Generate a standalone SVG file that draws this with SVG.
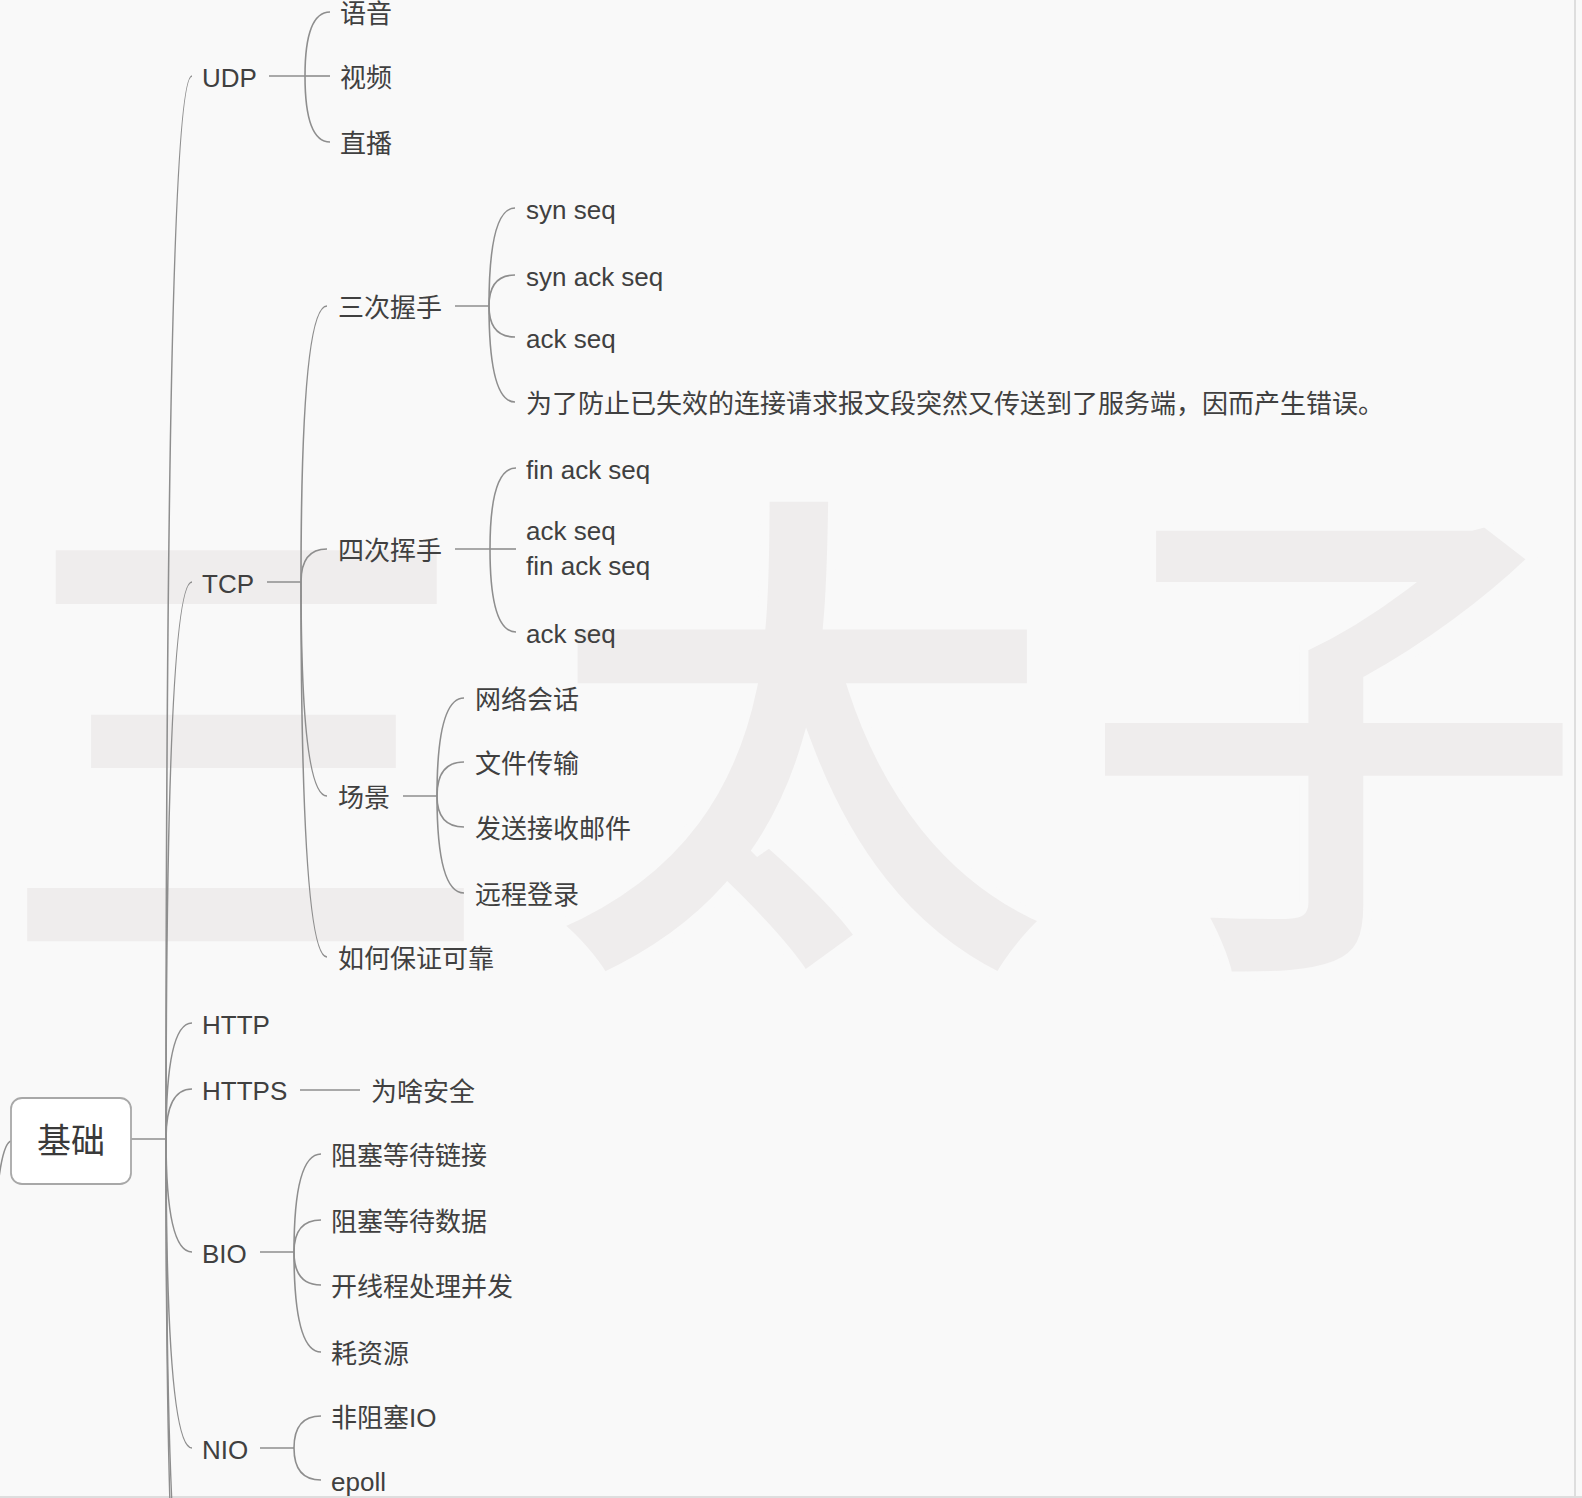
<svg xmlns="http://www.w3.org/2000/svg" width="1582" height="1498" viewBox="0 0 1582 1498">
<defs>
<style>
.t{font-family:"Liberation Sans","Noto Sans CJK SC",sans-serif;font-size:26px;fill:#404040;}
.root{font-family:"Liberation Sans","Noto Sans CJK SC",sans-serif;font-size:34px;fill:#3a3a3a;text-anchor:middle;}
.c{fill:none;stroke:#8e8e8e;stroke-width:1.6;}
.wm{font-family:"Noto Sans CJK SC",sans-serif;font-size:511px;font-weight:700;fill:#efeded;stroke:#f9f9f9;stroke-width:9;stroke-linejoin:miter;text-anchor:middle;}
</style>
<clipPath id="clipw"><rect x="0" y="0" width="1574" height="1496"/></clipPath>
</defs>
<rect x="0" y="0" width="1582" height="1498" fill="#f9f9f9"/>
<g id="watermark" clip-path="url(#clipw)">
<text class="wm" x="246" y="931">三</text>
<text class="wm" x="800" y="931">太</text>
<text class="wm" x="1333" y="931">子</text>
</g>
<rect x="1574" y="0" width="2" height="1498" fill="#dedede"/>
<rect x="0" y="1496" width="1582" height="2" fill="#dedede"/>

<g id="connectors">
<path class="c" d="M-2 1185 Q3 1143 11 1141"/>
<path class="c" d="M131 1139 H166"/>
<path class="c" d="M166 1139 Q166 76 192 76"/>
<path class="c" d="M166 1139 Q166 582 192 582"/>
<path class="c" d="M166 1139 Q166 1023 192 1023"/>
<path class="c" d="M166 1139 Q166 1089 192 1089"/>
<path class="c" d="M166 1139 Q166 1252 192 1252"/>
<path class="c" d="M166 1139 Q166 1448 192 1448"/>
<path class="c" d="M166 1139 Q166 1640 192 1640"/>
<path class="c" d="M166 1139 Q166 1720 192 1720"/>
<path class="c" d="M269 76 H305"/>
<path class="c" d="M305 76 Q305 12 330 12"/>
<path class="c" d="M305 76 H330"/>
<path class="c" d="M305 76 Q305 142 330 142"/>
<path class="c" d="M267 582 H301"/>
<path class="c" d="M301 582 Q301 306 327 306"/>
<path class="c" d="M301 582 Q301 549 327 549"/>
<path class="c" d="M301 582 Q301 796 327 796"/>
<path class="c" d="M301 582 Q301 957 327 957"/>
<path class="c" d="M455 306 H489"/>
<path class="c" d="M489 306 Q489 208 515 208"/>
<path class="c" d="M489 306 Q489 275 515 275"/>
<path class="c" d="M489 306 Q489 337 515 337"/>
<path class="c" d="M489 306 Q489 402 515 402"/>
<path class="c" d="M455 549 H490"/>
<path class="c" d="M490 549 Q490 468 516 468"/>
<path class="c" d="M490 549 H516"/>
<path class="c" d="M490 549 Q490 632 516 632"/>
<path class="c" d="M403 796 H437"/>
<path class="c" d="M437 796 Q437 698 464 698"/>
<path class="c" d="M437 796 Q437 762 464 762"/>
<path class="c" d="M437 796 Q437 827 464 827"/>
<path class="c" d="M437 796 Q437 893 464 893"/>
<path class="c" d="M300 1090 H360"/>
<path class="c" d="M260 1252 H294"/>
<path class="c" d="M294 1252 Q294 1154 321 1154"/>
<path class="c" d="M294 1252 Q294 1220 321 1220"/>
<path class="c" d="M294 1252 Q294 1285 321 1285"/>
<path class="c" d="M294 1252 Q294 1352 321 1352"/>
<path class="c" d="M260 1448 H294"/>
<path class="c" d="M294 1448 Q294 1416 321 1416"/>
<path class="c" d="M294 1448 Q294 1480 321 1480"/>
</g>

<g id="n-root">
<rect x="11" y="1098" width="120" height="86" rx="11" fill="#ffffff" stroke="#a8a8a8" stroke-width="1.8"/>
<text class="root" x="71" y="1153">基础</text>
</g>

<g id="n-udp"><text class="t" x="202" y="87">UDP</text></g>
<g id="n-yuyin"><text class="t" x="340" y="23">语音</text></g>
<g id="n-shipin"><text class="t" x="340" y="87">视频</text></g>
<g id="n-zhibo"><text class="t" x="340" y="153">直播</text></g>

<g id="n-tcp"><text class="t" x="202" y="593">TCP</text></g>
<g id="n-sanci"><text class="t" x="338" y="317">三次握手</text></g>
<g id="n-synseq"><text class="t" x="526" y="219">syn seq</text></g>
<g id="n-synackseq"><text class="t" x="526" y="286">syn ack seq</text></g>
<g id="n-ackseq1"><text class="t" x="526" y="348">ack seq</text></g>
<g id="n-why"><text class="t" x="526" y="413">为了防止已失效的连接请求报文段突然又传送到了服务端，因而产生错误。</text></g>

<g id="n-sici"><text class="t" x="338" y="560">四次挥手</text></g>
<g id="n-finackseq1"><text class="t" x="526" y="479">fin ack seq</text></g>
<g id="n-ackfin"><text class="t" x="526" y="540">ack seq</text><text class="t" x="526" y="575">fin ack seq</text></g>
<g id="n-ackseq2"><text class="t" x="526" y="643">ack seq</text></g>

<g id="n-changjing"><text class="t" x="338" y="807">场景</text></g>
<g id="n-wangluo"><text class="t" x="475" y="709">网络会话</text></g>
<g id="n-wenjian"><text class="t" x="475" y="773">文件传输</text></g>
<g id="n-youjian"><text class="t" x="475" y="838">发送接收邮件</text></g>
<g id="n-yuancheng"><text class="t" x="475" y="904">远程登录</text></g>
<g id="n-kekao"><text class="t" x="338" y="968">如何保证可靠</text></g>

<g id="n-http"><text class="t" x="202" y="1034">HTTP</text></g>
<g id="n-https"><text class="t" x="202" y="1100">HTTPS</text></g>
<g id="n-anquan"><text class="t" x="371" y="1101">为啥安全</text></g>

<g id="n-bio"><text class="t" x="202" y="1263">BIO</text></g>
<g id="n-bio1"><text class="t" x="331" y="1165">阻塞等待链接</text></g>
<g id="n-bio2"><text class="t" x="331" y="1231">阻塞等待数据</text></g>
<g id="n-bio3"><text class="t" x="331" y="1296">开线程处理并发</text></g>
<g id="n-bio4"><text class="t" x="331" y="1363">耗资源</text></g>

<g id="n-nio"><text class="t" x="202" y="1459">NIO</text></g>
<g id="n-nio1"><text class="t" x="331" y="1427">非阻塞IO</text></g>
<g id="n-nio2"><text class="t" x="331" y="1491">epoll</text></g>
</svg>
